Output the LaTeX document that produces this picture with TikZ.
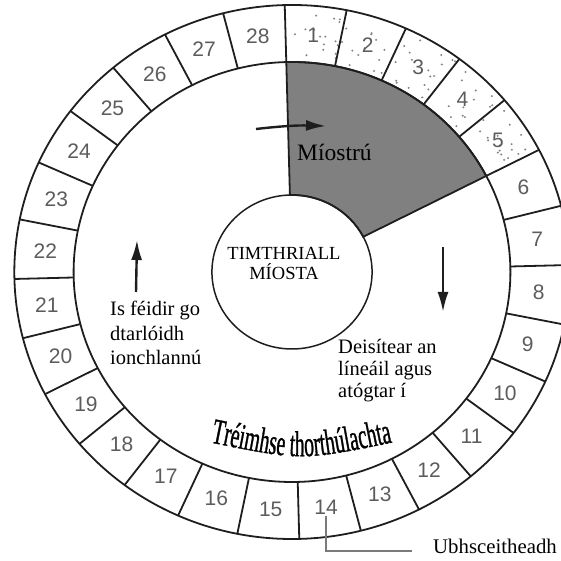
\documentclass[tikz,border=0pt]{standalone}
\usepackage{fontspec}
\setmainfont{Liberation Serif}
\newfontfamily\numfont{Liberation Sans}
\newfontfamily\wordartfont[FakeStretch=0.55,FakeBold=0.8]{Liberation Serif}
\usetikzlibrary{arrows.meta,decorations.text}

\definecolor{cycleink}{HTML}{1E1E1E}
\definecolor{cyclenum}{HTML}{5C5C5C}
\definecolor{cyclemens}{HTML}{808080}
\definecolor{cycledot}{HTML}{858585}
\definecolor{cyclelead}{HTML}{7A7A7A}

\begin{document}
\begin{tikzpicture}[
  x=1pt,y=1pt,
  ring/.style={draw=cycleink,line width=1.8pt},
  daynum/.style={font=\numfont\fontsize{21}{21}\selectfont,text=cyclenum,inner sep=1pt},
  note/.style={font=\fontsize{20.5}{24.5}\selectfont,align=left,inner sep=0pt},
  cyclearrow/.style={draw=cycleink,line width=2.4pt,-{Latex[length=20pt,width=11pt]}}
]
  \path[use as bounding box] (0,0) rectangle (560,561);
  \begin{scope}[shift={(292,289)},xscale=1.04]
    % stippled days 1-5 and the shaded sector
    \pgfmathsetseed{23}
    \foreach \i in {1,...,80}{
      \pgfmathsetmacro\da{28+rnd*62.5}
      \pgfmathsetmacro\dr{214+rnd*49}
      \fill[cycledot] (\da:\dr) circle (1.1);
    }
    \draw[ring,fill=cyclemens] (91.5:77) -- (91.5:210)
      arc[start angle=91.5,end angle=27.21,radius=210] -- (27.21:77)
      arc[start angle=27.21,end angle=91.5,radius=77] -- cycle;
    \draw[ring] (0,0) circle (267);
    \draw[ring] (0,0) circle (210);
    \draw[ring,line width=1.5pt] (0,0) circle (77);
    \foreach \k in {1,...,28}{
      \pgfmathsetmacro\a{91.5-(\k-1)*360/28}
      \draw[ring] (\a:210) -- (\a:267);
      \node[daynum] (d\k) at ({\a-180/28}:238) {\k};
    }
  \end{scope}

  % direction of the cycle
  \coordinate (topfrom) at (256,432);
  \coordinate (topto) at (326,435);
  \draw[cyclearrow] (topfrom) to[bend left=4] (topto);
  \coordinate (leftfrom) at (136,269);
  \coordinate (leftto) at (137,321);
  \draw[cyclearrow] (leftfrom) -- (leftto);
  \coordinate (rightfrom) at (443,314);
  \coordinate (rightto) at (443,249);
  \draw[cyclearrow] (rightfrom) -- (rightto);

  \node[note,font=\fontsize{23.5}{25}\selectfont,anchor=base west] (mens) at (297,400) {Míostrú};
  \node[note,font=\fontsize{18.5}{20}\selectfont,align=center,anchor=base] (title) at (284,281) {TIMTHRIALL\\MÍOSTA};
  \node[note,anchor=base west] (implant) at (110,196) {Is féidir go\\dtarlóidh\\ionchlannú};
  \node[note,font=\fontsize{20.5}{22}\selectfont,anchor=base west] (shed) at (338,163) {Deisítear an\\líneáil agus\\atógtar í};
  \node[note,font=\fontsize{20.8}{22}\selectfont,anchor=base west] (ovul) at (433,7) {Ubhsceitheadh};
  \coordinate (ovlead) at (412,10);
  \draw[cyclelead,line width=1.3pt] (d14.south) |- (ovlead);

  % arched title of the fertile window
  \path[decorate,decoration={text along path,text align=center,
    text={|\wordartfont\fontsize{36}{36}\selectfont|Tréimhse thorthúlachta}}]
    (208,119) .. controls (301.5,100) .. (395,119);
\end{tikzpicture}
\end{document}
